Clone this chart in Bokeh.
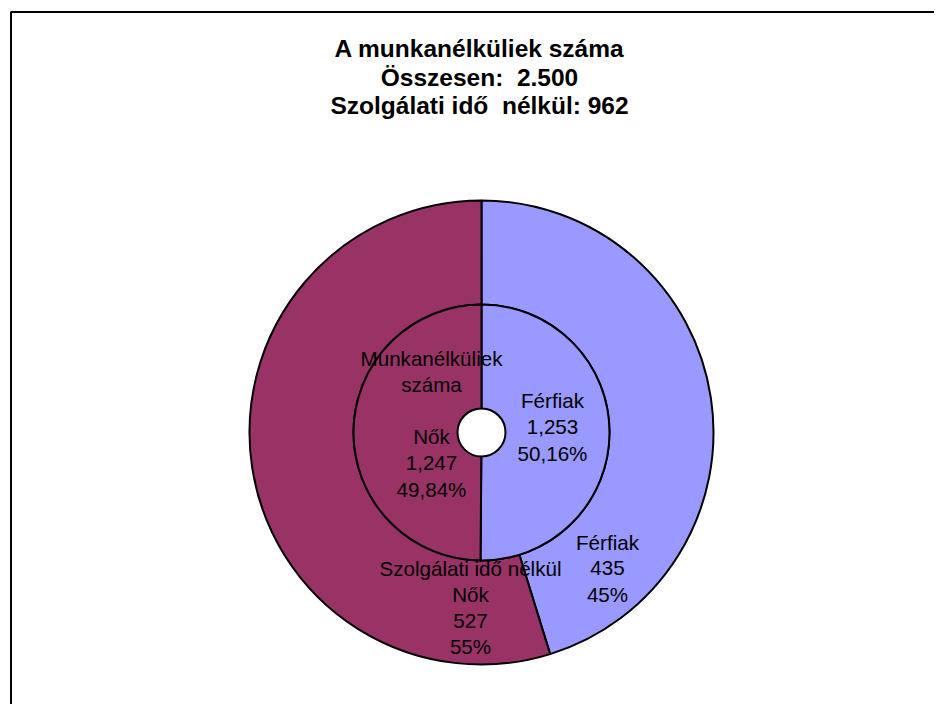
import numpy as np
from bokeh.plotting import figure
from bokeh.models import Range1d, ColumnDataSource
from bokeh.embed import file_html
from bokeh.resources import INLINE
from bokeh.core.properties import value

# ---- data ----
categories = ["Férfiak", "Nők"]
inner_values = [1253, 1247]
inner_pct = ["50,16%", "49,84%"]
outer_values = [435, 527]
outer_pct = ["45%", "55%"]
colors = ["#9999FF", "#993366"]
inner_series = ["Munkanélküliek", "száma"]
outer_series = "Szolgálati idő nélkül"
title_lines = ["A munkanélküliek száma",
               "Összesen:\u00a0 2.500",
               "Szolgálati idő\u00a0 nélkül: 962"]

FONT = value("Liberation Sans")
W, H = 934, 704


def py(page_y):
    return H - page_y


p = figure(width=W, height=H, x_range=Range1d(0, W), y_range=Range1d(0, H),
           output_backend="svg", toolbar_location=None, min_border=0)
p.axis.visible = False
p.grid.visible = False
p.outline_line_color = None
p.background_fill_color = "white"
p.border_fill_color = "white"

# chart area border (extends beyond window on right / bottom)
p.quad(left=10.5, right=990, top=py(11.5), bottom=-60, fill_color=None,
       line_color="black", line_width=2)

cx, cy = 481, py(432)
R_hole, R_mid, R_out = 24, 128, 232


def wedge_angles(vals):
    v = np.asarray(vals, dtype=float)
    cum = np.concatenate([[0], np.cumsum(v)]) / v.sum()
    start = np.pi / 2 - 2 * np.pi * cum[:-1]
    end = np.pi / 2 - 2 * np.pi * cum[1:]
    return start, end


for vals, r0, r1 in [(outer_values, R_mid, R_out), (inner_values, R_hole, R_mid)]:
    s, e = wedge_angles(vals)
    src = ColumnDataSource(dict(x=[cx] * len(vals), y=[cy] * len(vals),
                                start=s, end=e, color=colors, cat=categories))
    p.annular_wedge(x="x", y="y", inner_radius=r0, outer_radius=r1,
                    start_angle="start", end_angle="end", direction="clock",
                    fill_color="color", line_color="black", line_width=2,
                    source=src)

# ---- labels ----
LH = 26.3
label_blocks = [
    # (x, centre y of first line, lines)
    (431, 357.5, inner_series + ["", categories[1], f"{inner_values[1]:,}", inner_pct[1]]),
    (552, 400, [categories[0], f"{inner_values[0]:,}", inner_pct[0]]),
    (607, 541.5, [categories[0], f"{outer_values[0]}", outer_pct[0]]),
    (470, 567.5, [outer_series, categories[1], f"{outer_values[1]}", outer_pct[1]]),
]
lx, ly, lt = [], [], []
for x0, y0, lines in label_blocks:
    for i, t in enumerate(lines):
        if t:
            lx.append(x0)
            ly.append(py(y0 + i * LH))
            lt.append(t)
p.text(x=lx, y=ly, text=lt, text_font=FONT, text_font_size="20.6px",
       text_align="center", text_baseline="middle", text_color="black")

# ---- title ----
tc = [48, 77, 105]
p.text(x=[479] * 3, y=[py(c) for c in tc], text=title_lines, text_font=FONT,
       text_font_size="24.5px", text_font_style="bold", text_align="center",
       text_baseline="middle", text_color="black")

open("out.html", "w").write(file_html(p, INLINE))
